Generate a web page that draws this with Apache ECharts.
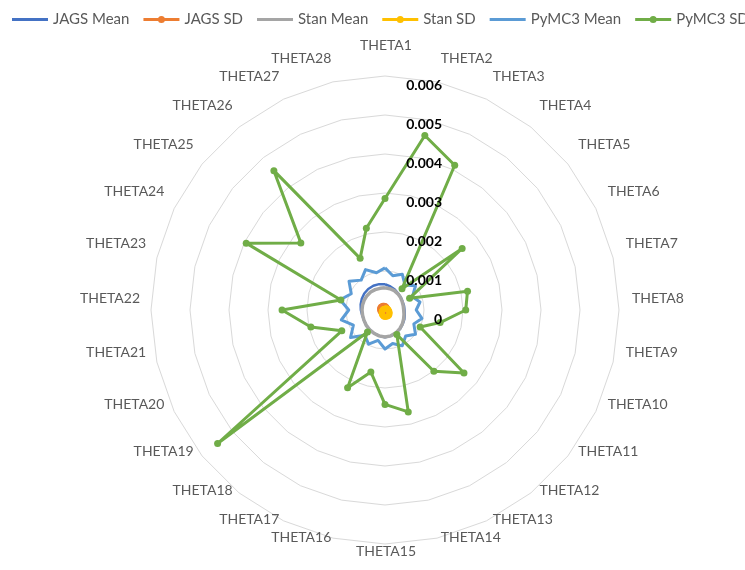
<!DOCTYPE html>
<html>
<head>
<meta charset="utf-8">
<script src="https://cdn.jsdelivr.net/npm/echarts@6/dist/echarts.min.js"></script>
<style>
  html, body { margin: 0; padding: 0; background: #fff; }
  #chart { width: 745px; height: 570px; }
</style>
</head>
<body>
<div id="chart"></div>
<script>
// Parameter names, one spoke each (clockwise from the top)
const categories = [
  'THETA1', 'THETA2', 'THETA3', 'THETA4', 'THETA5', 'THETA6', 'THETA7',
  'THETA8', 'THETA9', 'THETA10', 'THETA11', 'THETA12', 'THETA13', 'THETA14',
  'THETA15', 'THETA16', 'THETA17', 'THETA18', 'THETA19', 'THETA20', 'THETA21',
  'THETA22', 'THETA23', 'THETA24', 'THETA25', 'THETA26', 'THETA27', 'THETA28'
];

// Ring values shown on the first spoke
const tickValues = [0, 0.001, 0.002, 0.003, 0.004, 0.005, 0.006];

const jagsMean = [
  0.00066, 0.00062, 0.00058, 0.00054, 0.00052, 0.00050, 0.00050,
  0.00050, 0.00052, 0.00055, 0.00058, 0.00062, 0.00065, 0.00068,
  0.00070, 0.00068, 0.00066, 0.00064, 0.00062, 0.00060, 0.00060,
  0.00062, 0.00064, 0.00066, 0.00068, 0.00069, 0.00069, 0.00068
];
const jagsSD = [
  0.00010, 0.00009, 0.00008, 0.00007, 0.00006, 0.00005, 0.00005,
  0.00005, 0.00005, 0.00005, 0.00005, 0.00006, 0.00006, 0.00006,
  0.00007, 0.00007, 0.00008, 0.00009, 0.00010, 0.00011, 0.00012,
  0.00012, 0.00013, 0.00013, 0.00013, 0.00012, 0.00012, 0.00011
];
const stanMean = [
  0.00057, 0.00056, 0.00055, 0.00053, 0.00051, 0.00049, 0.00048,
  0.00048, 0.00050, 0.00053, 0.00057, 0.00061, 0.00065, 0.00068,
  0.00069, 0.00068, 0.00066, 0.00064, 0.00062, 0.00060, 0.00059,
  0.00059, 0.00059, 0.00059, 0.00059, 0.00059, 0.00058, 0.00057
];
const stanSD = [
  0.00003, 0.00003, 0.00004, 0.00005, 0.00006, 0.00007, 0.00008,
  0.00009, 0.00011, 0.00013, 0.00015, 0.00017, 0.00018, 0.00018,
  0.00018, 0.00017, 0.00015, 0.00013, 0.00011, 0.00009, 0.00007,
  0.00006, 0.00005, 0.00004, 0.00004, 0.00003, 0.00003, 0.00003
];
const pymc3Mean = [
  0.00108, 0.00090, 0.00102, 0.00082, 0.00100, 0.00078, 0.00092,
  0.00080, 0.00097, 0.00082, 0.00100, 0.00085, 0.00102, 0.00088,
  0.00100, 0.00080, 0.00097, 0.00083, 0.00113, 0.00090, 0.00115,
  0.00093, 0.00118, 0.00096, 0.00118, 0.00098, 0.00115, 0.00098
];
const pymc3SD = [
  0.00286, 0.00459, 0.00412, 0.00070, 0.00253, 0.00070, 0.00217,
  0.00207, 0.00145, 0.00100, 0.00259, 0.00201, 0.00070, 0.00268,
  0.00242, 0.00163, 0.00221, 0.00072, 0.00549, 0.00123, 0.00195,
  0.00264, 0.00116, 0.00395, 0.00276, 0.00457, 0.00147, 0.00215
];

const seriesNames = ['JAGS Mean', 'JAGS SD', 'Stan Mean', 'Stan SD', 'PyMC3 Mean', 'PyMC3 SD'];
const seriesColors = ['#4472C4', '#ED7D31', '#A5A5A5', '#FFC000', '#5B9BD5', '#70AD47'];
const seriesValues = [jagsMean, jagsSD, stanMean, stanSD, pymc3Mean, pymc3SD];
const hasMarkers = [false, true, false, true, false, true];
const lineWidths = [2.5, 2.5, 3.5, 2.5, 3, 3];

const axisMax = tickValues[tickValues.length - 1];
const FONT = 'Lato, "Open Sans", sans-serif';

// ECharts lays radar spokes out counter-clockwise; keep the first spoke on top
// and reverse the rest so the parameters run clockwise.
const clockwise = arr => [arr[0]].concat(arr.slice(1).reverse());

// Legend glyphs: plain stroke for means, stroke with a dot for SDs
const lineIcon = 'path://M0,0H36V3H0Z';
const dotIcon = 'path://M0,2H36V5H0Z M14.5,3.5A3.5,3.5,0,1,1,21.5,3.5A3.5,3.5,0,1,1,14.5,3.5Z';

const chart = echarts.init(document.getElementById('chart'), null, { renderer: 'canvas' });

const spokeNames = clockwise(categories);
const plainIndicators = spokeNames.map(c => ({ name: c, min: 0, max: axisMax }));
const RING_CENTER = [385, 310];
const RING_RADIUS = 234;

const hidden = {
  axisName: { show: false },
  axisLine: { show: false },
  axisTick: { show: false },
  axisLabel: { show: false },
  splitLine: { show: false },
  splitArea: { show: false }
};

const option = {
  backgroundColor: '#ffffff',
  animation: false,
  color: seriesColors,
  legend: {
    left: 7,
    top: 7,
    width: 900,
    itemWidth: 36,
    itemHeight: 8,
    itemGap: 14,
    textStyle: { color: '#595959', fontSize: 15, fontFamily: FONT },
    data: seriesNames.map((n, i) => ({ name: n, icon: hasMarkers[i] ? dotIcon : lineIcon }))
  },
  radar: [
    Object.assign({}, hidden, {
      // spoke names
      center: [386, 298],
      radius: 240,
      startAngle: 90,
      nameGap: 6,
      shape: 'polygon',
      splitNumber: 6,
      indicator: plainIndicators,
      axisName: { color: '#595959', fontSize: 14, fontFamily: FONT }
    }),
    Object.assign({}, hidden, {
      // value rings
      center: RING_CENTER,
      radius: RING_RADIUS,
      startAngle: 90,
      shape: 'polygon',
      splitNumber: tickValues.length - 1,
      indicator: plainIndicators,
      splitLine: { show: true, lineStyle: { color: '#D9D9D9', width: 1 } }
    }),
    Object.assign({}, hidden, {
      // ring values on the first spoke, drawn above the series
      z: 10,
      center: RING_CENTER,
      radius: RING_RADIUS,
      startAngle: 90,
      shape: 'polygon',
      splitNumber: tickValues.length - 1,
      indicator: spokeNames.map((c, i) => i === 0
        ? {
            name: c, min: 0, max: axisMax,
            axisLabel: {
              show: true,
              color: '#000000',
              fontWeight: 'bold',
              fontSize: 14,
              fontFamily: FONT,
              margin: -57,
              align: 'right',
              verticalAlign: 'top',
              padding: [2, 0, 0, 0],
              formatter: v => (v === 0 ? '0' : v.toFixed(3))
            }
          }
        : { name: c, min: 0, max: axisMax })
    })
  ],
  series: seriesNames.map((name, i) => ({
    type: 'radar',
    radarIndex: 1,
    name: name,
    symbol: hasMarkers[i] ? 'circle' : 'none',
    symbolSize: i === 5 ? 7 : 6,
    lineStyle: { color: seriesColors[i], width: lineWidths[i] },
    itemStyle: { color: seriesColors[i] },
    data: [{ name: name, value: clockwise(seriesValues[i]) }]
  }))
};

chart.setOption(option);
</script>
</body>
</html>
